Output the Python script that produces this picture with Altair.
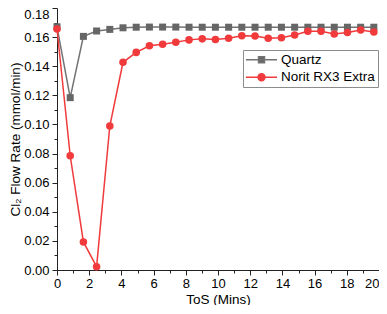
import altair as alt
import pandas as pd

# ---- data ----
tos = [0, 0.82, 1.64, 2.46, 3.28, 4.1, 4.92, 5.74, 6.56, 7.38, 8.2, 9.02, 9.84,
       10.66, 11.48, 12.3, 13.12, 13.94, 14.76, 15.58, 16.4, 17.22, 18.04, 18.86, 19.68]
quartz = [0.1671, 0.1184, 0.1605, 0.1642, 0.1653, 0.1664, 0.1668, 0.1669, 0.1669,
          0.1669, 0.1668, 0.1668, 0.1668, 0.1668, 0.1668, 0.1668, 0.1668, 0.1668,
          0.1668, 0.1668, 0.1668, 0.1668, 0.1668, 0.1668, 0.1668]
norit = [0.1656, 0.0785, 0.0193, 0.0023, 0.0989, 0.1427, 0.1495, 0.1540, 0.1551,
         0.1565, 0.1581, 0.1588, 0.1583, 0.1592, 0.1610, 0.1608, 0.1592, 0.1595,
         0.1615, 0.1640, 0.1640, 0.1622, 0.1631, 0.1649, 0.1635]
series_names = ["Quartz", "Norit RX3 Extra"]
x_ticks = list(range(0, 21))
y_ticks = [i / 100 for i in range(0, 19)]

GRAY_LINE = "#737373"
GRAY_PT = "#666666"
RED = "#f03a3c"

df = pd.DataFrame({
    "ToS": tos * 2,
    "rate": quartz + norit,
    "series": [series_names[0]] * len(tos) + [series_names[1]] * len(tos),
})

FONT = "Liberation Sans"

x_enc = alt.X("ToS:Q", scale=alt.Scale(domain=[0, 20], nice=False, zero=False),
              axis=alt.Axis(values=x_ticks, title="ToS (Mins)", format="d",
                            labelExpr="datum.value % 2 == 0 ? datum.label : ''",
                            labelAlign={"condition": {"test": "datum.value >= 20", "value": "right"}, "value": "center"},
                            tickSize={"condition": {"test": "datum.value % 2 == 0", "value": 5}, "value": 3},
                            grid=False, labelFlush=False, labelOverlap=False,
                            labelPadding=2, titlePadding=2))
y_enc = alt.Y("rate:Q", scale=alt.Scale(domain=[0, 0.18], nice=False),
              axis=alt.Axis(values=y_ticks, title="Cl₂ Flow Rate (mmol/min)",
                            labelExpr="round(datum.value*100) % 2 == 0 ? format(datum.value, '.2f') : ''",
                            labelBaseline={"condition": {"test": "datum.value >= 0.179", "value": "top"}, "value": "middle"},
                            tickSize={"condition": {"test": "round(datum.value*100) % 2 == 0", "value": 5}, "value": 3},
                            grid=False, labelFlush=False, labelOverlap=False,
                            labelPadding=3, titlePadding=1))

base = alt.Chart(df)
q = base.transform_filter(alt.datum.series == series_names[0])
n = base.transform_filter(alt.datum.series == series_names[1])

q_line = q.mark_line(color=GRAY_LINE, strokeWidth=1.5).encode(x=x_enc, y=y_enc)
q_pts = q.mark_point(shape="square", filled=True, color=GRAY_PT, size=49, opacity=1).encode(x=x_enc, y=y_enc)
n_line = n.mark_line(color=RED, strokeWidth=1.5).encode(x=x_enc, y=y_enc)
n_pts = n.mark_point(shape="circle", filled=True, color=RED, size=57, opacity=1).encode(x=x_enc, y=y_enc)

# legend symbols: line + marker as custom paths
sq_path = "M-1.69,0H6.06M1.44,-0.75H2.94V0.75H1.44Z"
ci_path = ("M-1.69,0H6.06M1.32,0A0.87,0.87 0 1,0 3.06,0A0.87,0.87 0 1,0 1.32,0Z")

leg = alt.Legend(title=None, orient="none", legendX=186, legendY=42,
                 padding=3, strokeColor="#8c8c8c", fillColor="white",
                 labelFont=FONT, labelFontSize=13.5, labelColor="black",
                 symbolSize=64, symbolStrokeWidth=1.5, symbolOpacity=1,
                 labelOffset=21.5, rowPadding=2.5, labelLimit=200)

carrier = base.mark_point(filled=True, opacity=0, strokeWidth=1.5).encode(
    x=x_enc, y=y_enc,
    fill=alt.Fill("series:N", scale=alt.Scale(domain=series_names, range=[GRAY_PT, RED]), legend=leg),
    stroke=alt.Stroke("series:N", scale=alt.Scale(domain=series_names, range=[GRAY_LINE, RED]), legend=leg),
    shape=alt.Shape("series:N", scale=alt.Scale(domain=series_names, range=[sq_path, ci_path]), legend=leg),
)

chart = alt.layer(q_line, q_pts, n_line, n_pts, carrier).properties(
    width=322, height=262, background="white",
    padding={"left": 49, "top": 0, "right": 0, "bottom": 35},
    autosize=alt.AutoSizeParams(type="none"),
).configure_view(stroke=None).configure_axis(
    labelFont=FONT, titleFont=FONT, labelFontSize=13, titleFontSize=13.5,
    titleFontWeight="normal", labelColor="black", titleColor="black",
    domainColor="#222222", tickColor="#222222", domainWidth=1, tickWidth=1,
)

chart.save("out.html", embed_options={"renderer": "svg", "actions": False})
